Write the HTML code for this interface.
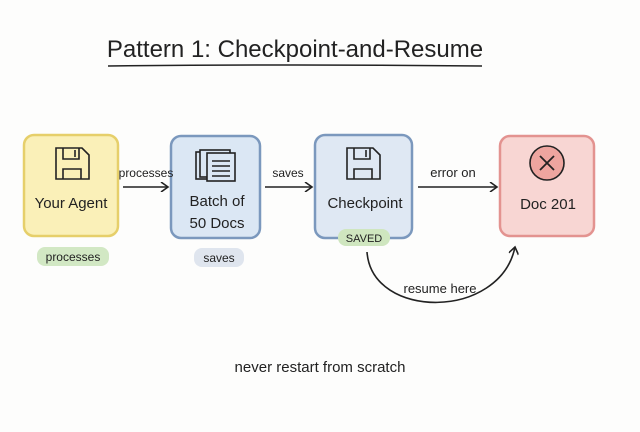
<!DOCTYPE html>
<html><head><style>
body{margin:0;width:640px;height:427px;background:#fdfdfc;font-family:"Liberation Sans",sans-serif;overflow:hidden}
</style></head><body>
<svg width="640" height="427" viewBox="0 0 640 427" xmlns="http://www.w3.org/2000/svg" font-family="Liberation Sans, sans-serif" fill="#222">
<text x="295" y="57" font-size="24" text-anchor="middle">Pattern 1: Checkpoint-and-Resume</text>
<path d="M108 66 Q300 64 482 66" stroke="#222" stroke-width="1.5" fill="none"/>
<defs><marker id="a" markerWidth="10" markerHeight="10" refX="8" refY="5" orient="auto" markerUnits="userSpaceOnUse"><path d="M1 0 L8 5 L1 10" fill="none" stroke="#222" stroke-width="1.6"/></marker></defs>
<!-- boxes -->
<rect x="24" y="135" width="94" height="101" rx="10" fill="#faf0b8" stroke="#e6cf6a" stroke-width="2.5"/>
<rect x="171" y="136" width="89" height="102" rx="10" fill="#dbe7f4" stroke="#7b98bd" stroke-width="2.5"/>
<rect x="315" y="135" width="97" height="103" rx="10" fill="#dfe8f3" stroke="#7b98bd" stroke-width="2.5"/>
<rect x="500" y="136" width="94" height="100" rx="10" fill="#f8d6d3" stroke="#e39390" stroke-width="2.5"/>
<!-- floppy icons -->
<g fill="none" stroke="#222" stroke-width="1.6">
<path d="M56 148 h26 l7 7 v24 h-33 z M63 148 v11 h16 v-11 M75 150 v7 M63 179 v-10 h18 v10"/>
<path d="M347 148 h26 l7 7 v24 h-33 z M354 148 v11 h16 v-11 M366 150 v7 M354 179 v-10 h18 v10"/>
<rect x="196" y="152" width="30" height="27" fill="#dbe7f4"/>
<rect x="201" y="154" width="30" height="27" fill="#dbe7f4" transform="translate(-1,-4)"/>
<rect x="207" y="153" width="28" height="28" fill="#dbe7f4"/>
<path d="M212 161 h18 M212 166 h18 M212 171 h18 M212 176 h18"/>
</g>
<circle cx="547" cy="163" r="17" fill="#eea59f" stroke="#222" stroke-width="1.6"/>
<path d="M540 156 L554 170 M554 156 L540 170" stroke="#222" stroke-width="1.8"/>
<!-- labels -->
<g font-size="15" text-anchor="middle">
<text x="71" y="208">Your Agent</text>
<text x="217" y="206">Batch of</text>
<text x="217" y="228">50 Docs</text>
<text x="365" y="208">Checkpoint</text>
<text x="548" y="209">Doc 201</text>
</g>
<!-- arrows -->
<g stroke="#222" stroke-width="1.6" fill="none" marker-end="url(#a)">
<line x1="123" y1="187" x2="168" y2="187"/>
<line x1="265" y1="187" x2="312" y2="187"/>
<line x1="418" y1="187" x2="497" y2="187"/>
<path d="M367 252 C372 320 500 320 515 247"/>
</g>
<g font-size="12" text-anchor="middle">
<text x="146" y="177">processes</text>
<text x="288" y="177">saves</text>
<text x="453" y="177" font-size="13">error on</text>
<text x="440" y="293" font-size="13">resume here</text>
</g>
<!-- pills -->
<rect x="37" y="247" width="72" height="19" rx="8" fill="#d2e8c4"/>
<text x="73" y="261" font-size="12" text-anchor="middle">processes</text>
<rect x="194" y="248" width="50" height="19" rx="8" fill="#dfe5ee"/>
<text x="219" y="262" font-size="12" text-anchor="middle">saves</text>
<rect x="338" y="229" width="52" height="17" rx="8" fill="#cfe6bf"/>
<text x="364" y="242" font-size="11" text-anchor="middle">SAVED</text>
<text x="320" y="372" font-size="15" text-anchor="middle">never restart from scratch</text>
</svg>
</body></html>
